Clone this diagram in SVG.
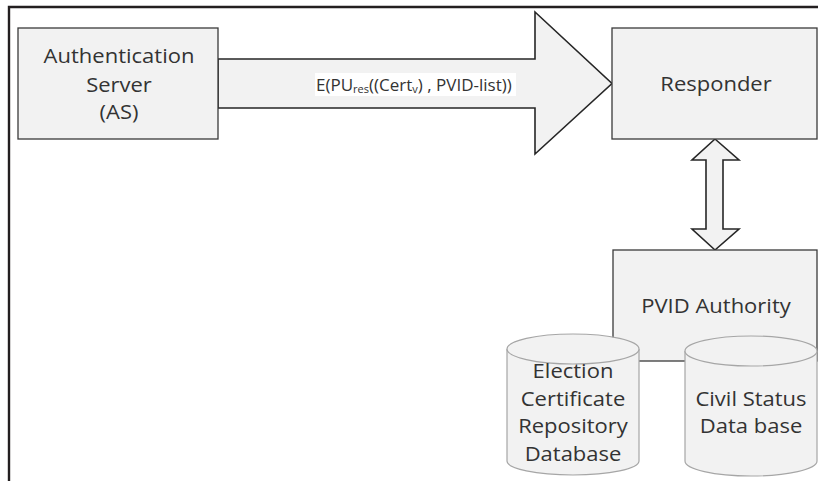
<svg xmlns="http://www.w3.org/2000/svg" width="818" height="481" viewBox="0 0 818 481">
<style>
.box{fill:#f2f2f2;stroke:#3a3a3a;stroke-width:1.3}
.arr{fill:#f2f2f2;stroke:#262626;stroke-width:1.6;stroke-linejoin:miter}
.cyl{fill:#f2f2f2;stroke:#a6a6a6;stroke-width:1.2}
.t{font-family:"Open Sans","Noto Sans",sans-serif;font-size:20px;fill:#333;text-anchor:middle}
.lbl{font-family:"Open Sans","Noto Sans",sans-serif;font-size:17px;fill:#333}
.sub{font-size:11px}
.frame{stroke:#231f20;stroke-width:2.4;fill:none}
</style>
<rect width="818" height="481" fill="#fff"/>
<path class="frame" d="M9,481 V7 H818"/>
<g id="connectors">
<polygon class="arr" points="218,59 535,59 535,12 612,83.5 535,154 535,108 218,108"/>
<rect x="315" y="73" width="201" height="23" fill="#fff"/>
<text class="lbl" x="316" y="91">E(PU<tspan class="sub" dy="2">res</tspan><tspan dy="-2">((Cert</tspan><tspan class="sub" dy="2">v</tspan><tspan dy="-2">) , PVID-list))</tspan></text>
<polygon class="arr" points="715,139 739,160 723,160 723,229 739,229 715,250 692,229 706,229 706,160 692,160"/>
</g>
<g id="as">
<rect class="box" x="18" y="28" width="200" height="111"/>
<g transform="translate(119 0) scale(1.1 1)">
<text class="t" x="0" y="63">Authentication</text>
<text class="t" x="0" y="92">Server</text>
<text class="t" x="0" y="119">(AS)</text>
</g>
</g>
<g id="responder">
<rect class="box" x="612" y="28" width="205" height="111"/>
<g transform="translate(716 0) scale(1.1 1)">
<text class="t" x="0" y="91">Responder</text>
</g>
</g>
<g id="pvid">
<rect class="box" x="613" y="250" width="204" height="111"/>
<g transform="translate(716 0) scale(1.1 1)">
<text class="t" x="0" y="313">PVID Authority</text>
</g>
</g>
<g id="election-db">
<path class="cyl" d="M507,349 A66,15 0 0 1 639,349 V461 A66,14 0 0 1 507,461 Z"/>
<path class="cyl" fill="none" d="M507,349 A66,15 0 0 0 639,349"/>
<g transform="translate(573 0) scale(1.1 1)">
<text class="t" x="0" y="378">Election</text>
<text class="t" x="0" y="406">Certificate</text>
<text class="t" x="0" y="433">Repository</text>
<text class="t" x="0" y="461">Database</text>
</g>
</g>
<g id="civil-db">
<path class="cyl" d="M685,351 A66,15 0 0 1 817,351 V461 A66,15 0 0 1 685,461 Z"/>
<path class="cyl" fill="none" d="M685,351 A66,15 0 0 0 817,351"/>
<g transform="translate(751 0) scale(1.1 1)">
<text class="t" x="0" y="406">Civil Status</text>
<text class="t" x="0" y="433">Data base</text>
</g>
</g>
</svg>
